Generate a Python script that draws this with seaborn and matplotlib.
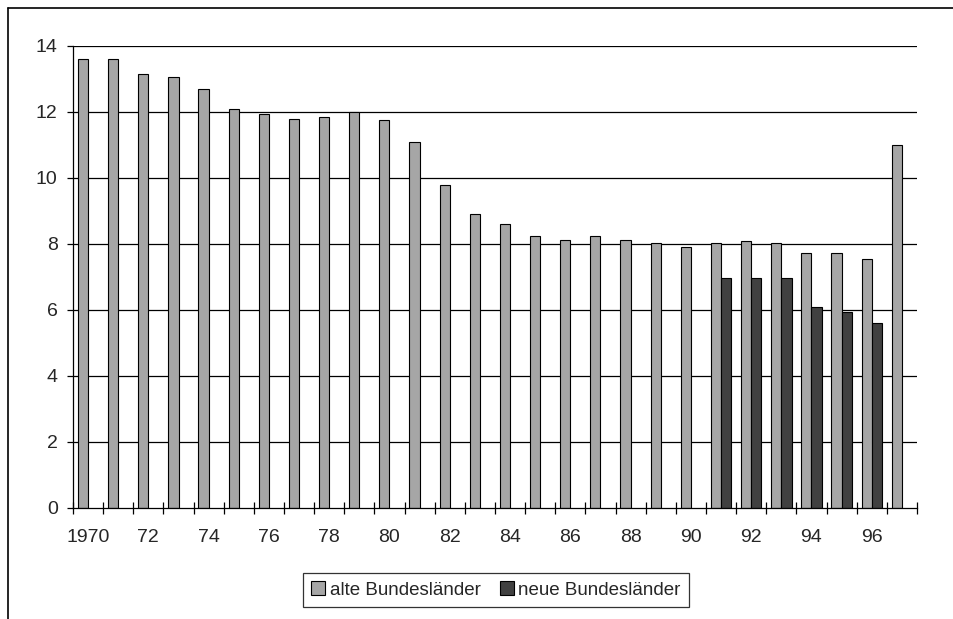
import numpy as np
import pandas as pd
import seaborn as sns
import matplotlib.pyplot as plt
from matplotlib.lines import Line2D
from matplotlib.ticker import FixedLocator

years = [str(y) for y in range(1970, 1998)]
alte = [13.6, 13.6, 13.15, 13.05, 12.7, 12.1, 11.95, 11.8, 11.85, 12.0,
        11.75, 11.1, 9.8, 8.9, 8.6, 8.25, 8.12, 8.25, 8.12, 8.02,
        7.92, 8.02, 8.08, 8.02, 7.72, 7.72, 7.55, 11.0]
neue = [np.nan] * 21 + [6.98, 6.98, 6.98, 6.1, 5.95, 5.62, np.nan]
tick_labels = ["1970" if y == "1970" else y[2:] for y in years]

df = pd.concat([
    pd.DataFrame({"Jahr": years, "Wert": alte, "Gebiet": "alte Bundesländer"}),
    pd.DataFrame({"Jahr": years, "Wert": neue, "Gebiet": "neue Bundesländer"}),
]).dropna()

sns.set_style("white")
plt.rcParams["font.family"] = ["Liberation Sans", "DejaVu Sans"]

fig = plt.figure(figsize=(9.54, 6.19), dpi=100)
ax = fig.add_axes([73 / 954, 1 - 508 / 619, (917 - 73) / 954, (508 - 46) / 619])

sns.barplot(data=df, x="Jahr", y="Wert", hue="Gebiet", order=years,
            hue_order=["alte Bundesländer", "neue Bundesländer"],
            palette=["#a6a6a6", "#404040"], width=0.68, gap=0,
            edgecolor="black", linewidth=0.8, ax=ax, legend=True)

ax.set_xlim(-0.5, len(years) - 0.5)
ax.set_ylim(0, 14)
ax.set_yticks(range(0, 15, 2))
ax.set_xlabel("")
ax.set_ylabel("")
for y in range(2, 15, 2):
    ax.axhline(y, color="black", lw=0.9, zorder=0)

# tick marks between categories, labels on every other category
ax.xaxis.set_major_locator(FixedLocator(np.arange(-0.5, len(years), 1)))
ax.set_xticklabels([])
ax.xaxis.set_minor_locator(FixedLocator(range(0, len(years), 2)))
ax.set_xticklabels(tick_labels[::2], minor=True)
ax.tick_params(axis="x", which="major", direction="inout", length=8, width=0.9, bottom=True, color="black")
ax.tick_params(axis="x", which="minor", length=0, pad=15, labelsize=14)
ax.tick_params(axis="y", length=4, width=0.9, left=True, color="black", labelsize=14, pad=7)

for s in ["top", "right"]:
    ax.spines[s].set_visible(False)
for s in ["left", "bottom"]:
    ax.spines[s].set_color("black")
    ax.spines[s].set_linewidth(0.9)

handles, labels = ax.get_legend_handles_labels()
ax.get_legend().remove()
leg = fig.legend(handles, labels, loc="center", bbox_to_anchor=(0.52, 0.047), ncol=2,
                 frameon=True, fancybox=False, fontsize=13.5, handlelength=0.75,
                 handleheight=0.75, handletextpad=0.25, columnspacing=1.0,
                 borderpad=0.45, borderaxespad=0)
leg.get_frame().set_edgecolor("black")
leg.get_frame().set_linewidth(0.9)

# outer frame, only top and left edge visible
fig.add_artist(Line2D([8 / 954, 8 / 954], [0, 1 - 8 / 619], color="black", lw=1.2, transform=fig.transFigure))
fig.add_artist(Line2D([8 / 954, 1], [1 - 8 / 619, 1 - 8 / 619], color="black", lw=1.2, transform=fig.transFigure))

fig.savefig("out.png", dpi=100)
